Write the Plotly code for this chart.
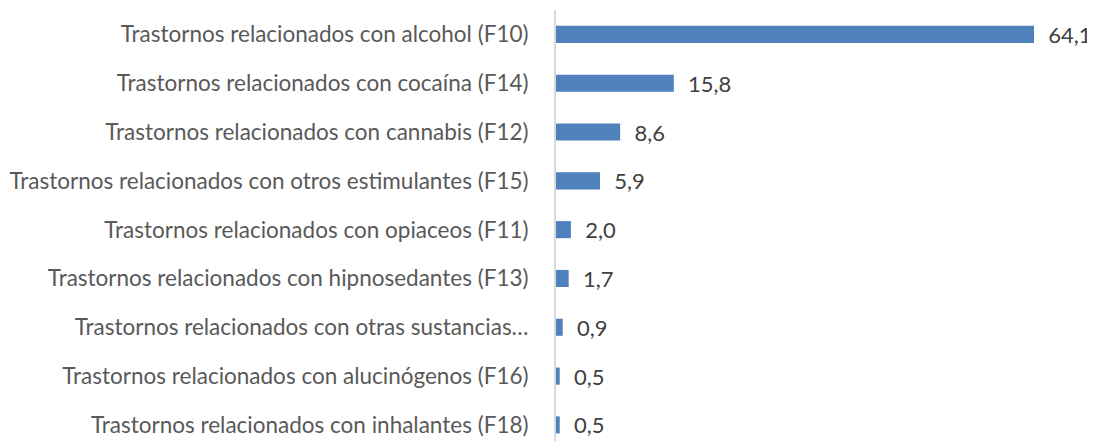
"""Horizontal bar chart: trastornos por sustancia (%)."""

import plotly.graph_objects as go

categories = [
    "Trastornos relacionados con alcohol (F10)",
    "Trastornos relacionados con cocaína (F14)",
    "Trastornos relacionados con cannabis (F12)",
    "Trastornos relacionados con otros estimulantes (F15)",
    "Trastornos relacionados con opiaceos (F11)",
    "Trastornos relacionados con hipnosedantes (F13)",
    "Trastornos relacionados con otras sustancias…",
    "Trastornos relacionados con alucinógenos (F16)",
    "Trastornos relacionados con inhalantes (F18)",
]
values = [64.1, 15.8, 8.6, 5.9, 2.0, 1.7, 0.9, 0.5, 0.5]

FONT = "Lato, Open Sans, sans-serif"
SIZE = 22.5

fig = go.Figure(
    go.Bar(
        x=values,
        y=categories,
        orientation="h",
        width=0.35,
        marker=dict(color="#4f81bd", line=dict(width=0)),
        texttemplate="  %{x:.1f}",
        textposition="outside",
        constraintext="none",
        cliponaxis=False,
        textfont=dict(family=FONT, size=22, color="#404040"),
    )
)

# page body has an 8px margin, so the figure is a bit smaller than the window
fig.update_layout(
    width=1087,
    height=433,
    margin=dict(l=548, r=17, t=2, b=0, autoexpand=False),
    plot_bgcolor="white",
    paper_bgcolor="white",
    separators=",.",
    showlegend=False,
    font=dict(family=FONT, size=SIZE, color="#595959"),
)

fig.update_xaxes(
    range=[0, 70],
    visible=False,
    showgrid=False,
    zeroline=False,
)

fig.update_yaxes(
    range=[8.33, -0.5],
    showgrid=False,
    zeroline=False,
    showline=True,
    linecolor="#d9d9d9",
    linewidth=2,
    ticks="",
    ticklabelstandoff=21,
    tickfont=dict(family=FONT, size=SIZE, color="#595959"),
)

fig.write_html("out.html")
